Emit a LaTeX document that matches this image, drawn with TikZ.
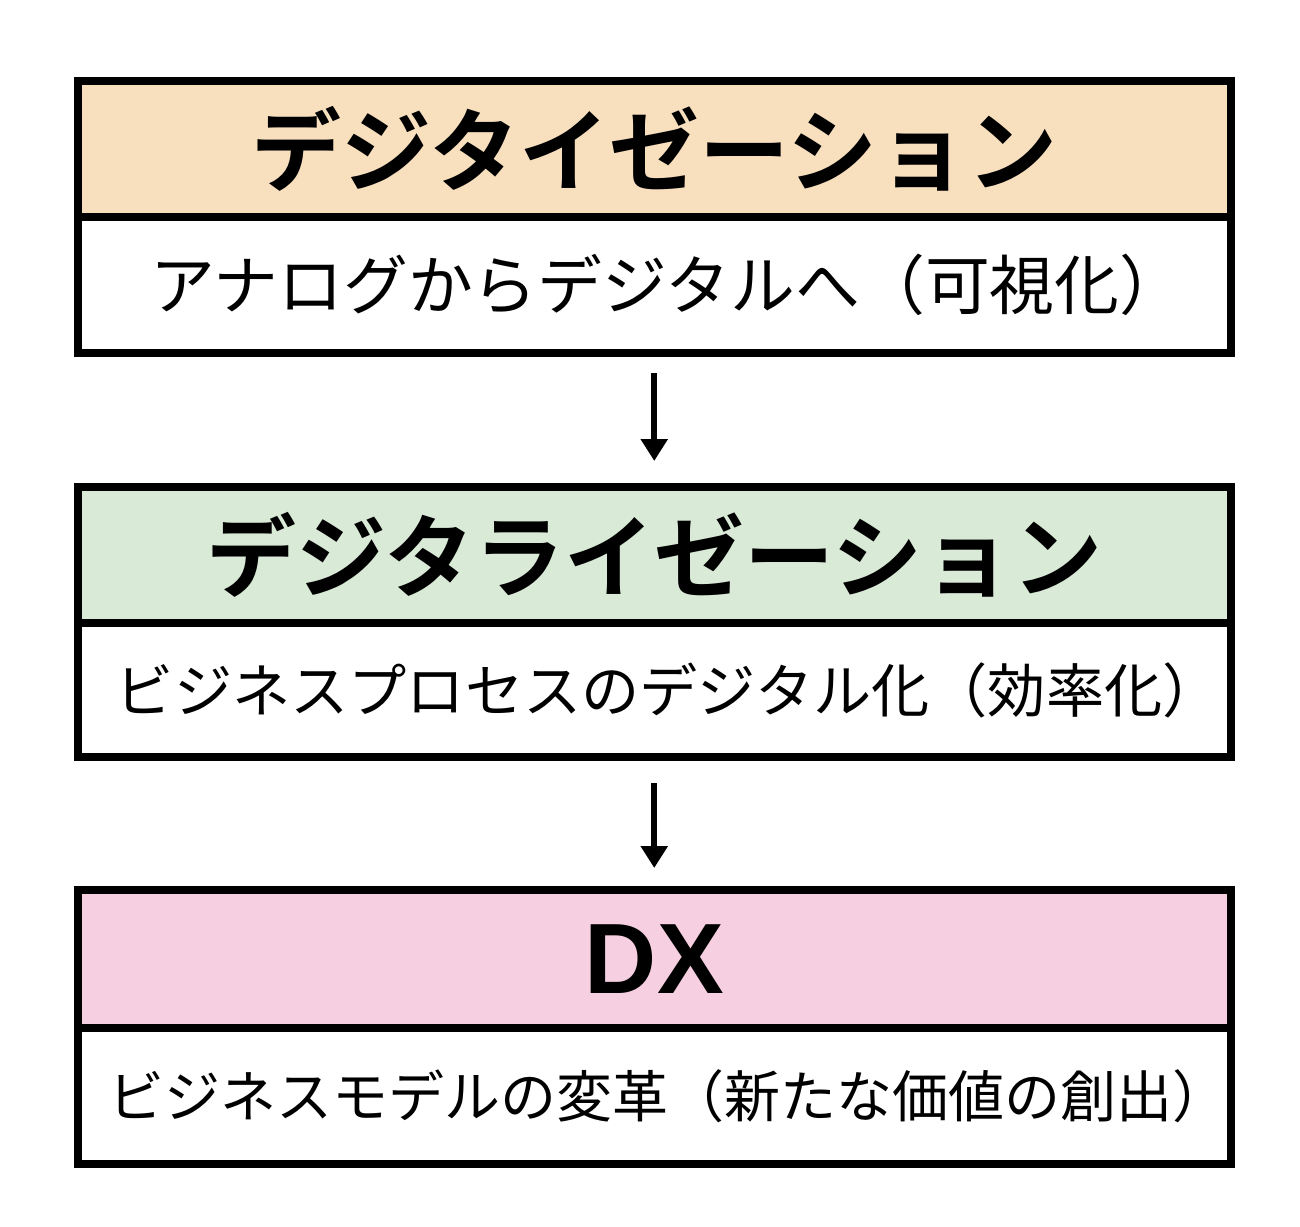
\documentclass[tikz,border=0pt]{standalone}
\usepackage{fontspec}
\setmainfont{Noto Sans CJK JP}[BoldFont={Noto Sans CJK JP Bold}]
\newfontfamily\latinbold{Liberation Sans}[BoldFont={Liberation Sans Bold}]
\usetikzlibrary{arrows.meta}
\definecolor{peach}{HTML}{F8E0BF}
\definecolor{mint}{HTML}{D9EAD7}
\definecolor{pinkc}{HTML}{F6CFE0}
\tikzset{
  part/.style={draw=black, line width=8pt, rectangle, inner sep=0pt, outer sep=0pt, anchor=north west,
    minimum width=1152.5pt, text=black},
  hdr/.style={part, minimum height=136pt, font=\bfseries\fontsize{90pt}{96pt}\selectfont},
  body/.style={part, fill=white, minimum height=135.5pt},
  arr/.style={line width=6pt, -{Triangle[width=26pt,length=22pt]}},
}
\begin{document}
\begin{tikzpicture}[x=1pt,y=-1pt]
\useasboundingbox (0,0) rectangle (1300,1226);
% box 1
\node[body, font=\fontsize{64.8pt}{68pt}\selectfont] (b1) at (78,217) {\kern26pt アナログからデジタルへ（可視化）};
\node[hdr, fill=peach] (h1) at (78,81) {デジタイゼーション};
% box 2
\node[body, font=\fontsize{58.2pt}{62pt}\selectfont, minimum height=134pt] (b2) at (78,623) {\kern28pt ビジネスプロセスのデジタル化（効率化）};
\node[hdr, fill=mint] (h2) at (78,487) {デジタライゼーション};
% box 3
\node[body, font=\fontsize{56pt}{60pt}\selectfont] (b3) at (78,1028) {\kern28pt ビジネスモデルの変革（新たな価値の創出）};
\node[hdr, fill=pinkc, minimum height=138pt, font=\latinbold\bfseries\fontsize{100pt}{110pt}\selectfont] (h3) at (78,890) {DX};
% arrows
\draw[arr] ([yshift=-20.5pt]b1.south) -- ([yshift=26pt]h2.north);
\draw[arr] ([yshift=-26pt]b2.south) -- ([yshift=22pt]h3.north);
\end{tikzpicture}
\end{document}
